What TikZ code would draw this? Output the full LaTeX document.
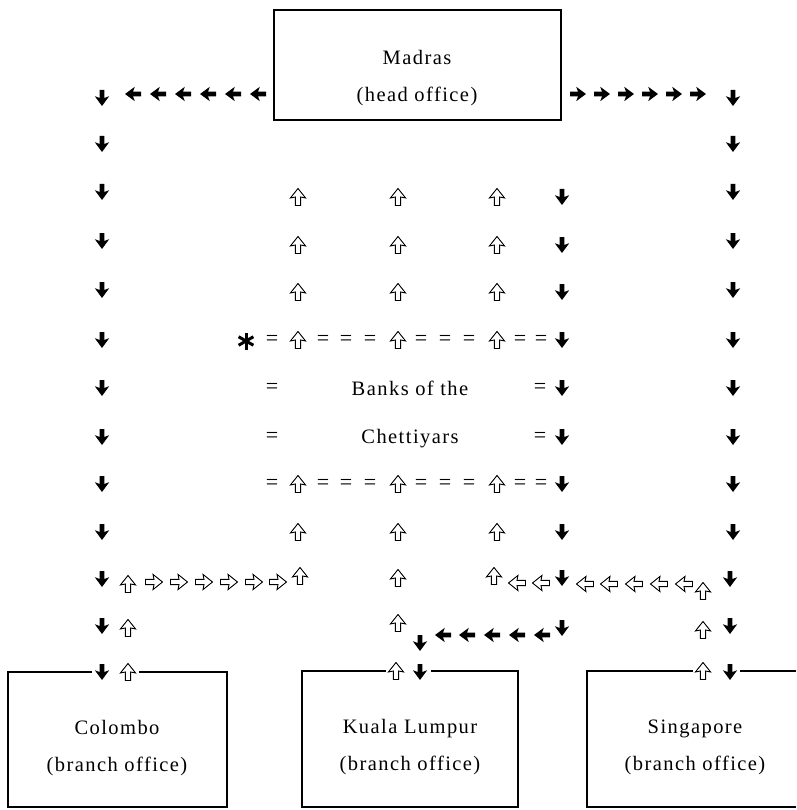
\documentclass[tikz,border=0pt]{standalone}
\usepackage{fontspec}
\setmainfont{Liberation Serif}
\begin{document}
\begin{tikzpicture}[x=1pt,y=-1pt]
\tikzset{
  boxline/.style={line width=1.7pt},
  lbl/.style={font=\fontsize{20.5}{24}\selectfont\addfontfeatures{LetterSpace=7}, inner sep=0pt, anchor=base},
  eqsign/.style={font=\fontsize{22}{26}\selectfont, inner sep=0pt},
  solidarrow/.pic={\fill[black] (-8,-2.4) -- (0,-2.4) -- (-1.8,-7.2) -- (8,0) -- (-1.8,7.2) -- (0,2.4) -- (-8,2.4) -- cycle;},
  hollowarrow/.pic={\draw[black, line width=0.9pt, fill=white] (-8.5,-2.6) -- (0,-2.6) -- (-1,-7.6) -- (8.5,0) -- (-1,7.6) -- (0,2.6) -- (-8.5,2.6) -- cycle;}
}
\useasboundingbox (0,0) rectangle (796,810);
\fill[white] (0,0) rectangle (796,810);

% Madras head office
\draw[boxline] (274,10) rectangle (561,120);
\node[lbl] (madras) at (417,65) {Madras};
\node[lbl] (madrassub) at (417,102) {(head office)};

% Colombo box
\draw[boxline] (92,672) -- (8,672) -- (8,807) -- (227,807) -- (227,672) -- (139,672);
\node[lbl] (colombo) at (117,734) {Colombo};
\node[lbl] (colombosub) at (117,771) {(branch office)};

% Kuala Lumpur box
\draw[boxline] (386,671) -- (302,671) -- (302,807) -- (518,807) -- (518,671) -- (431,671);
\node[lbl] (kl) at (410,733) {Kuala Lumpur};
\node[lbl] (klsub) at (410,770) {(branch office)};

% Singapore box
\draw[boxline] (693,671) -- (587,671) -- (587,807) -- (796,807);
\draw[boxline] (740,671) -- (796,671);
\node[lbl] (sing) at (695,733) {Singapore};
\node[lbl] (singsub) at (695,770) {(branch office)};

% Banks of the Chettiyars
\node[lbl] (banks) at (410,395) {Banks of the};
\node[lbl] (chett) at (410,443) {Chettiyars};

% asterisk
\foreach \a in {90,30,150}
  \draw[line width=3pt] (246,341) -- ++(\a:8.5) (246,341) -- ++(\a+180:8.5);

% equals signs
\foreach \y in {340,484}
  \foreach \x in {272,323,346,370,421,445,469,520,541}
    \node[eqsign] at (\x,\y) {=};
\foreach \y in {388,437}
  \foreach \x in {272,540}
    \node[eqsign] at (\x,\y) {=};

% solid arrows: outer left column (down)
\foreach \y in {98,144,192,241,290,340,388,437,484,532,579,626,672}
  \pic[rotate=-90] at (102,\y) {solidarrow};
% outer right column (down)
\foreach \y in {98,144,192,241,290,340,388,437,484,532}
  \pic[rotate=-90] at (733,\y) {solidarrow};
\foreach \y in {579,626,672}
  \pic[rotate=-90] at (730,\y) {solidarrow};
% top left row (left)
\foreach \x in {133,158,183,208,233,258}
  \pic[rotate=180] at (\x,94) {solidarrow};
% top right row (right)
\foreach \x in {578,602,626,650,674,698}
  \pic at (\x,94) {solidarrow};
% inner down column
\foreach \y in {197,245,292,340,388,437,484,532,578,628}
  \pic[rotate=-90] at (562,\y) {solidarrow};
% bottom left-going row to Kuala Lumpur
\foreach \x in {443,467,492,517,542}
  \pic[rotate=180] at (\x,635) {solidarrow};
\pic[rotate=-90] at (420,643) {solidarrow};
\pic[rotate=-90] at (420,672) {solidarrow};

% hollow arrows: inner up columns
\foreach \x in {298,398,497}
  \foreach \y in {197,245,292,340,484,532}
    \pic[rotate=90] at (\x,\y) {hollowarrow};
\pic[rotate=90] at (300,576) {hollowarrow};
\pic[rotate=90] at (398,578) {hollowarrow};
\pic[rotate=90] at (494,576) {hollowarrow};
\pic[rotate=90] at (398,623) {hollowarrow};
\pic[rotate=90] at (396,671) {hollowarrow};
% Colombo up column
\foreach \y in {584,628,672}
  \pic[rotate=90] at (128,\y) {hollowarrow};
% right-going row from Colombo
\foreach \x in {154,179,204,229,254,278}
  \pic at (\x,582) {hollowarrow};
% left-going rows from Singapore
\foreach \x in {517,541}
  \pic[rotate=180] at (\x,583) {hollowarrow};
\foreach \x in {585,609,634,659,684}
  \pic[rotate=180] at (\x,584) {hollowarrow};
% Singapore up column
\foreach \y in {591,630,671}
  \pic[rotate=90] at (703,\y) {hollowarrow};
\end{tikzpicture}
\end{document}
